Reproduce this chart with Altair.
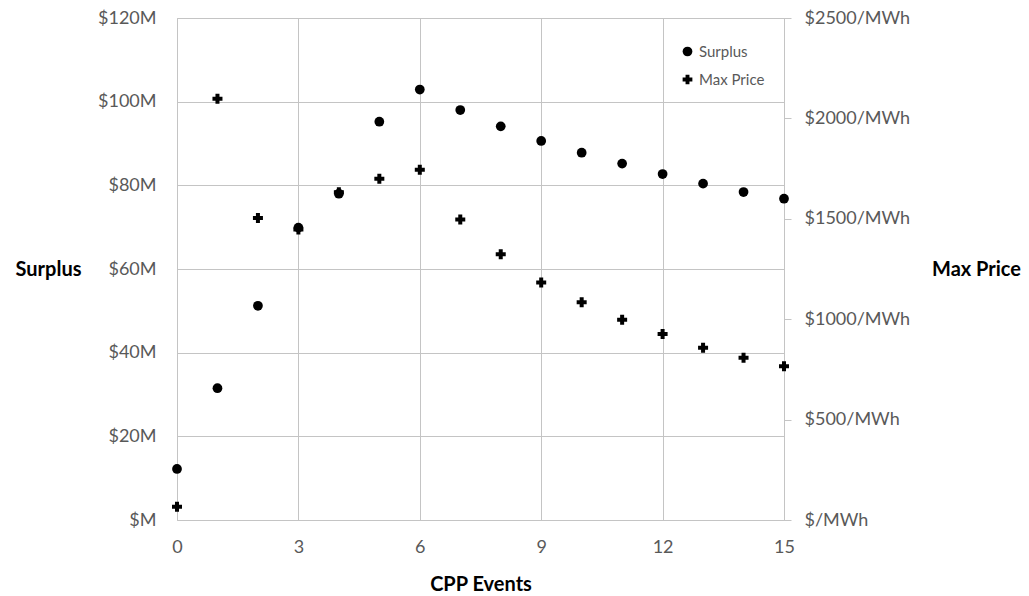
import altair as alt
import pandas as pd

cpp_events = list(range(16))
surplus_musd = [12.2, 31.5, 51.2, 69.9, 78.0, 95.2, 102.9, 98.0, 94.1, 90.6, 87.8, 85.2, 82.7, 80.4, 78.4, 76.8]
max_price = [66, 2098, 1504, 1447, 1632, 1700, 1744, 1496, 1323, 1183, 1085, 997, 926, 858, 808, 766]
x_ticks = [0, 3, 6, 9, 12, 15]
left_ticks = [0, 20, 40, 60, 80, 100, 120]
right_ticks = [0, 500, 1000, 1500, 2000, 2500]

df = pd.DataFrame({"cpp": cpp_events, "surplus": surplus_musd, "price": max_price})

FONT = "Lato"
GRID = "#c4c4c4"
LABEL = "#595959"

x_enc = alt.X(
    "cpp:Q",
    scale=alt.Scale(domain=[0, 15], nice=False, zero=False),
    axis=alt.Axis(
        values=x_ticks, title="CPP Events", grid=True, gridColor=GRID, domain=False,
        ticks=False, labelPadding=18, labelFontSize=18, labelColor=LABEL, labelFont=FONT,
        labelFlush=False,
        titleFont=FONT, titleFontSize=20, titleFontWeight="bold", titleColor="black",
        titleBaseline="middle", titleY=64,
    ),
)

shape_scale = alt.Scale(domain=["Surplus", "Max Price"], range=["circle", "cross"])
legend = alt.Legend(
    title=None, orient="none", legendX=503, legendY=26, labelFont=FONT, labelFontSize=15,
    labelColor=LABEL, symbolFillColor="black", symbolStrokeColor="black", symbolSize=95,
    rowPadding=11, labelOffset=4, padding=0,
)

surplus_layer = alt.Chart(df).transform_calculate(series="'Surplus'").mark_point(
    filled=True, color="black", size=95, opacity=1
).encode(
    x=x_enc,
    y=alt.Y(
        "surplus:Q",
        scale=alt.Scale(domain=[0, 120], nice=False),
        axis=alt.Axis(
            values=left_ticks, orient="left", grid=True, gridColor=GRID, domain=False,
            ticks=False, labelPadding=21, labelFontSize=18, labelColor=LABEL, labelFont=FONT,
            labelFlush=False,
            labelExpr="'$' + (datum.value == 0 ? '' : datum.value) + 'M'",
            title="Surplus", titleAngle=0, titleAlign="center", titleBaseline="middle",
            titleX=-129, titleY=251, titleFont=FONT, titleFontSize=20,
            titleFontWeight="bold", titleColor="black",
        ),
    ),
    shape=alt.Shape("series:N", scale=shape_scale, legend=legend),
)

price_layer = alt.Chart(df).transform_calculate(series="'Max Price'").mark_point(
    filled=True, color="black", size=100, opacity=1
).encode(
    x=x_enc,
    y=alt.Y(
        "price:Q",
        scale=alt.Scale(domain=[0, 2500], nice=False),
        axis=alt.Axis(
            values=right_ticks, orient="right", grid=False, domain=True, domainColor=GRID,
            ticks=True, tickColor=GRID, tickSize=7, labelPadding=13, labelFontSize=18,
            labelColor=LABEL, labelFont=FONT, labelFlush=False,
            labelExpr="'$' + (datum.value == 0 ? '' : datum.value) + '/MWh'",
            title="Max Price", titleAngle=0, titleAlign="center", titleBaseline="middle",
            titleX=192, titleY=251, titleFont=FONT, titleFontSize=20,
            titleFontWeight="bold", titleColor="black",
        ),
    ),
    shape=alt.Shape("series:N", scale=shape_scale, legend=legend),
)

chart = alt.layer(price_layer, surplus_layer).resolve_scale(y="independent").properties(
    width=607, height=502,
    autosize=alt.AutoSizeParams(type="none"),
    padding={"left": 177, "top": 18, "right": 245, "bottom": 76},
    background="white",
).configure_view(stroke=GRID, strokeWidth=1)

chart.save("out.html", embed_options={"renderer": "svg", "actions": False})
